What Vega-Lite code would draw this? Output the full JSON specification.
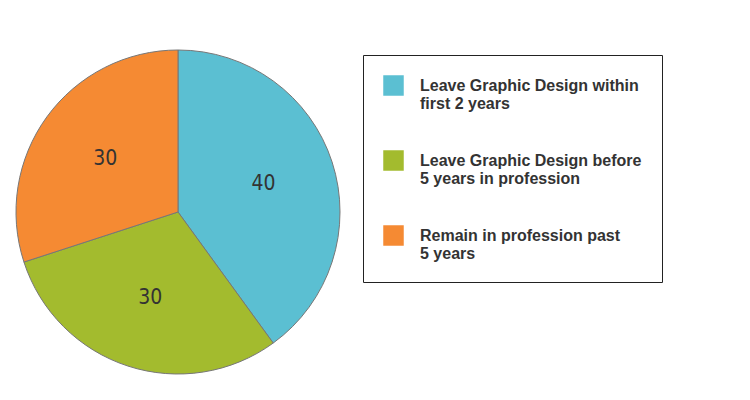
{
  "$schema": "https://vega.github.io/schema/vega-lite/v6.json",
  "width": 356,
  "height": 424,
  "autosize": "none",
  "padding": {"left": 0, "top": 0, "right": 394, "bottom": 0},
  "background": "white",
  "config": {"view": {"stroke": null}},
  "data": {
    "values": [
      {"k": "a", "label": "Leave Graphic Design within|first 2 years", "value": 40},
      {"k": "b", "label": "Leave Graphic Design before|5 years in profession", "value": 30},
      {"k": "c", "label": "Remain in profession past|5 years", "value": 30}
    ]
  },
  "encoding": {
    "theta": {"field": "value", "type": "quantitative", "stack": true},
    "order": {"field": "k"}
  },
  "layer": [
    {
      "mark": {"type": "arc", "outerRadius": 162, "stroke": "#777777", "strokeWidth": 1},
      "encoding": {
        "color": {
          "field": "label",
          "type": "nominal",
          "sort": null,
          "scale": {"range": ["#5bbfd2", "#a3bb2e", "#f58a33"]},
          "legend": {
            "title": null,
            "orient": "none",
            "legendX": 363,
            "legendY": 55,
            "strokeColor": "#222222",
            "padding": 20,
            "symbolType": "square",
            "symbolSize": 420,
            "symbolStrokeWidth": 0,
            "labelExpr": "split(datum.label, '|')",
            "labelFont": "Liberation Sans",
            "labelFontSize": 16,
            "labelFontWeight": "bold",
            "labelColor": "#333333",
            "labelLimit": 320,
            "labelOffset": 16,
            "labelLineHeight": 24,
            "rowPadding": 38,
            "labelBaseline": "middle"
          }
        }
      }
    },
    {
      "mark": {"type": "text", "radius": 90, "font": "DejaVu Sans Condensed", "fontSize": 21, "fill": "#333333"},
      "encoding": {"text": {"field": "value", "type": "nominal"}},
      "transform": [{"calculate": "datum.value + '%'", "as": "pct"}]
    }
  ]
}
